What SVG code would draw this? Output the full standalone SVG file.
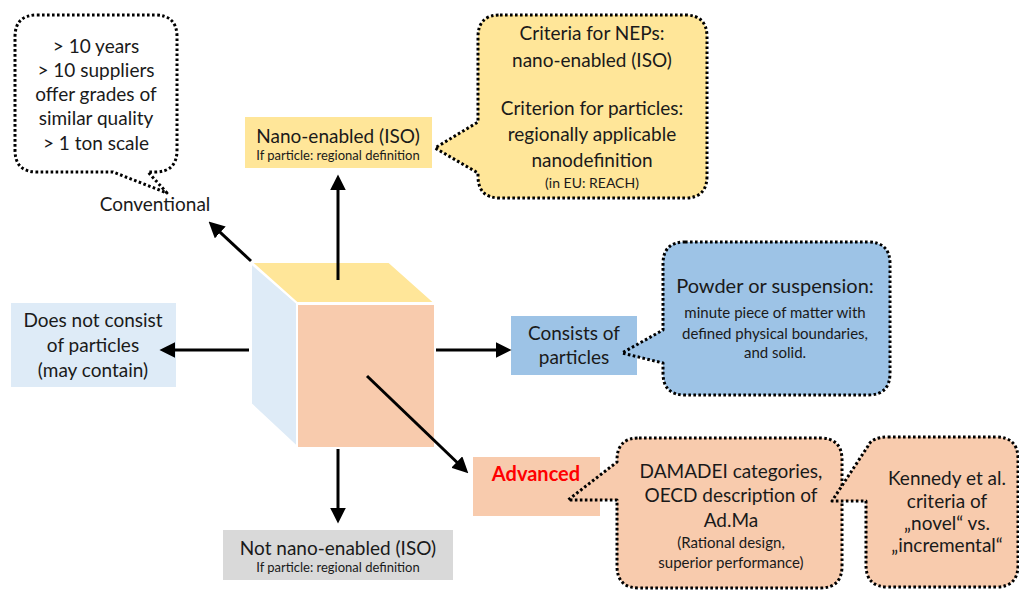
<svg xmlns="http://www.w3.org/2000/svg" width="1019" height="590" viewBox="0 0 1019 590">
<defs>
<marker id="ah" markerUnits="userSpaceOnUse" markerWidth="16" markerHeight="16" viewBox="0 0 14 14" refX="10" refY="7" orient="auto">
<path d="M0,0 L14,7 L0,14 Z" fill="#000"/>
</marker>
</defs>
<style>
text{font-family:Lato,"Liberation Sans",sans-serif;fill:#1a1a1a;text-anchor:middle}
.b{font-size:19px}
.s{font-size:13px}
.m{font-size:15px}
.call{stroke:#000;stroke-width:3;stroke-dasharray:2.6 2.4;stroke-linejoin:round}
.conn line{stroke:#000;stroke-width:3;marker-end:url(#ah)}
.face{stroke:#fff;stroke-width:2}
</style>
<rect width="1019" height="590" fill="#fff"/>

<g id="cube">
<polygon class="face" points="251,263 297,303 297,447 251,404" fill="#DEEBF7"/>
<polygon class="face" points="251,262 389,262 435,303 297,303" fill="#FFE699"/>
<rect class="face" x="297" y="304" width="138" height="144" fill="#F8CBAD"/>
</g>

<g id="conventional-callout">
<path class="call" fill="#fff" d="M37,15 H155 Q177,15 177,37 V150 Q177,172 155,172 H148 L167,193 L113,172 H37 Q15,172 15,150 V37 Q15,15 37,15 Z"/>
<text class="b" x="96" y="53">&gt; 10 years</text>
<text class="b" x="96" y="77">&gt; 10 suppliers</text>
<text class="b" x="96" y="101">offer grades of</text>
<text class="b" x="96" y="125">similar quality</text>
<text class="b" x="96" y="150">&gt; 1 ton scale</text>
</g>

<g id="conventional">
<text class="b" x="155" y="211">Conventional</text>
</g>

<g id="nano-enabled">
<rect x="245" y="117" width="187" height="51" fill="#FFE699"/>
<text class="b" x="338" y="143">Nano-enabled (ISO)</text>
<text class="s" x="338" y="160">If particle: regional definition</text>
</g>

<g id="neps-callout">
<path class="call" fill="#FFE699" d="M500,15 H685 Q707,15 707,37 V176 Q707,198 685,198 H500 Q478,198 478,176 V173 L435,148 L478,122 V37 Q478,15 500,15 Z"/>
<text class="b" x="592" y="40">Criteria for NEPs:</text>
<text class="b" x="592" y="67">nano-enabled (ISO)</text>
<text class="b" x="592" y="115">Criterion for particles:</text>
<text class="b" x="592" y="141">regionally applicable</text>
<text class="b" x="592" y="167">nanodefinition</text>
<text x="592" y="188" style="font-size:14px">(in EU: REACH)</text>
</g>

<g id="not-consist">
<rect x="11" y="303" width="165" height="84" fill="#DEEBF7"/>
<text class="b" x="93" y="327">Does not consist</text>
<text class="b" x="93" y="352">of particles</text>
<text class="b" x="93" y="377">(may contain)</text>
</g>

<g id="consists">
<rect x="511" y="316" width="126" height="59" fill="#9DC3E6"/>
<text class="b" x="574" y="340">Consists of</text>
<text class="b" x="574" y="364">particles</text>
</g>

<g id="powder-callout">
<path class="call" fill="#9DC3E6" d="M685,242 H868 Q890,242 890,264 V373 Q890,395 868,395 H685 Q663,395 663,373 V363 L622,353 L663,330 V264 Q663,242 685,242 Z"/>
<text x="775" y="293" style="font-size:20px">Powder or suspension:</text>
<text class="m" x="775" y="318">minute piece of matter with</text>
<text class="m" x="775" y="339">defined physical boundaries,</text>
<text class="m" x="775" y="358">and solid.</text>
</g>

<g id="advanced">
<rect x="473" y="457" width="127" height="59" fill="#F8CBAD"/>
<text x="536" y="481" style="font-size:20px;font-weight:bold;fill:#FF0000">Advanced</text>
</g>

<g id="damadei-callout">
<path class="call" fill="#F8CBAD" d="M639,438 H820 Q842,438 842,460 V566 Q842,588 820,588 H639 Q617,588 617,566 V500 H568 L617,462 V460 Q617,438 639,438 Z"/>
<text class="b" x="731" y="478">DAMADEI categories,</text>
<text class="b" x="731" y="502">OECD description of</text>
<text class="b" x="731" y="527">Ad.Ma</text>
<text class="m" x="731" y="548">(Rational design,</text>
<text class="m" x="731" y="568">superior performance)</text>
</g>

<g id="kennedy-callout">
<path class="call" fill="#F8CBAD" d="M888,437 H996 Q1018,437 1018,459 V565 Q1018,587 996,587 H888 Q866,587 866,565 V501 H832 L868,446 Q872,437 888,437 Z"/>
<text class="b" x="947" y="485">Kennedy et al.</text>
<text class="b" x="947" y="508">criteria of</text>
<text class="b" x="947" y="530">„novel“ vs.</text>
<text class="b" x="947" y="552">„incremental“</text>
</g>

<g id="not-nano">
<rect x="223" y="530" width="230" height="50" fill="#D9D9D9"/>
<text class="b" x="338" y="555">Not nano-enabled (ISO)</text>
<text class="s" x="338" y="572">If particle: regional definition</text>
</g>

<g class="conn" id="connectors">
<line x1="338" y1="280" x2="338" y2="179"/>
<line x1="251" y1="261" x2="211.9" y2="224.7"/>
<line x1="249" y1="350" x2="164" y2="350"/>
<line x1="436" y1="350" x2="507" y2="350"/>
<line x1="338" y1="449" x2="338" y2="519"/>
<line x1="367" y1="376" x2="465" y2="470"/>
</g>
</svg>
